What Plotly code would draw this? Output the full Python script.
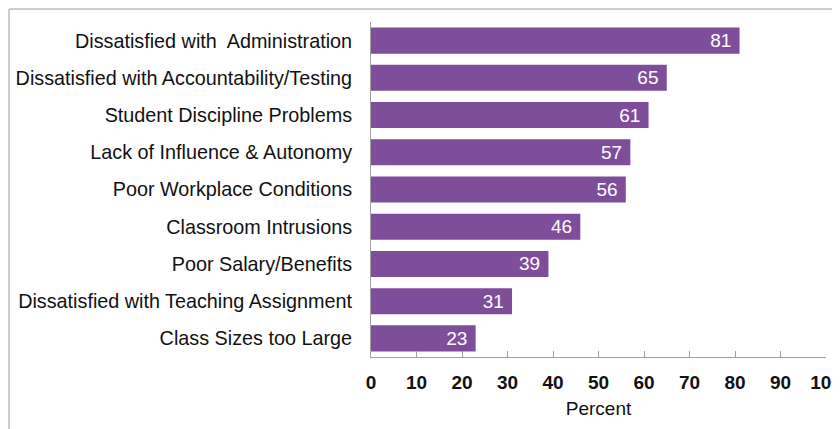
import plotly.graph_objects as go

categories = [
    "Dissatisfied with  Administration",
    "Dissatisfied with Accountability/Testing",
    "Student Discipline Problems",
    "Lack of Influence & Autonomy",
    "Poor Workplace Conditions",
    "Classroom Intrusions",
    "Poor Salary/Benefits",
    "Dissatisfied with Teaching Assignment",
    "Class Sizes too Large",
]
values = [81, 65, 61, 57, 56, 46, 39, 31, 23]
tick_vals = [0, 10, 20, 30, 40, 50, 60, 70, 80, 90, 100]

# page body has an 8px margin; offsets compensate
W, H = 840, 421
L, R, T, B = 363, 22, 14, 72

fig = go.Figure(go.Bar(
    x=values[::-1], y=categories[::-1], orientation="h",
    marker=dict(color="#7E4E9B", line=dict(width=0)),
    text=[str(v) + "\u00a0" for v in values[::-1]], textposition="inside",
    insidetextanchor="end", constraintext="none",
    textfont=dict(color="white", size=19, family="Liberation Sans, Arial"),
    width=0.7, hoverinfo="skip",
))

pw = W - L - R
ph = H - T - B
x0 = (1 - L) / pw
y1 = (H - B - 1) / ph
fig.add_shape(type="line", xref="paper", yref="paper", x0=x0, x1=x0, y0=-2, y1=y1,
              line=dict(color="#BDBDBD", width=1.5))
fig.add_shape(type="line", xref="paper", yref="paper", x0=x0, x1=2, y0=y1, y1=y1,
              line=dict(color="#BDBDBD", width=1.5))

fig.update_layout(
    width=W, height=H,
    margin=dict(l=L, r=R, t=T, b=B, autoexpand=False),
    paper_bgcolor="white", plot_bgcolor="white",
    showlegend=False,
    font=dict(family="Liberation Sans, Arial", color="#111111"),
    bargap=0.3,
)
fig.update_xaxes(
    range=[0, 100], tickvals=tick_vals, ticktext=[str(t) for t in tick_vals],
    tickfont=dict(size=19, family="Liberation Sans, Arial", weight="bold", color="#111111"),
    ticks="inside", ticklen=6, tickcolor="#A0A0A0", tickwidth=1,
    showline=True, linecolor="#A0A0A0", linewidth=1, showgrid=False, zeroline=False,
    ticklabelstandoff=8, ticklabeloverflow="allow",
    title=dict(text="Percent", font=dict(size=19, color="#111111"), standoff=9),
    fixedrange=True,
)
fig.update_yaxes(
    showline=True, linecolor="#A0A0A0", linewidth=1, showgrid=False, zeroline=False,
    ticks="", tickfont=dict(size=19.8, color="#111111"), ticklabelstandoff=14,
    fixedrange=True,
)

fig.write_html("out.html")
